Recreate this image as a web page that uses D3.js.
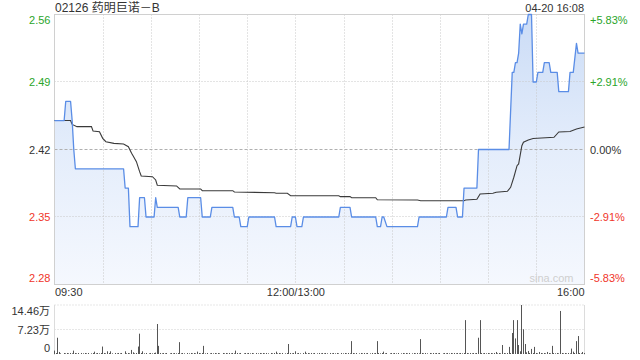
<!DOCTYPE html>
<html><head><meta charset="utf-8">
<script src="https://cdn.jsdelivr.net/npm/d3@7"></script>
<style>
html,body{margin:0;padding:0;background:#fff;}
svg{display:block;font-family:"Liberation Sans",Arial,"Noto Sans CJK SC",sans-serif;}
</style>
</head><body>
<svg id="c" width="640" height="360"></svg>
<script>
// ---------------- data ----------------
const stockTitle = "02126 药明巨诺－B";
const stampText = "04-20 16:08";
const watermark = "sina.com";
const prevClose = 2.42;
const priceTicks = [2.56, 2.49, 2.42, 2.35, 2.28];
const pctTicks = ["+5.83%", "+2.91%", "0.00%", "-2.91%", "-5.83%"];
const timeTicks = [0, 150, 330];               // minutes from 09:30 (lunch removed)
const timeLabels = ["09:30", "12:00/13:00", "16:00"];
const gridMinutes = [30, 60, 90, 120, 150, 180, 210, 240, 270, 300];
const volTicks = [14.46, 7.23, 0];
const volTickLabels = ["14.46万", "7.23万", "0"];

// [minute, price]
const pricePoints = [
  [0,2.45],[6,2.45],[7,2.47],[10,2.47],[11,2.45],[12,2.42],[13,2.40],[43,2.40],[44,2.38],[46,2.38],
  [47,2.34],[52,2.34],[53,2.37],[56,2.37],[57,2.35],[62,2.35],[63,2.37],[64,2.36],[77,2.36],[78,2.35],
  [82,2.35],[83,2.37],[91,2.37],[92,2.35],[97,2.35],[98,2.36],[111,2.36],[112,2.35],[115,2.35],[116,2.34],
  [120,2.34],[121,2.35],[137,2.35],[138,2.34],[147,2.34],[148,2.35],[150,2.35],[151,2.34],[154,2.34],[155,2.35],
  [177,2.35],[178,2.36],[184,2.36],[185,2.35],[200,2.35],[201,2.34],[203,2.34],[204,2.35],[205,2.35],[207,2.34],
  [226,2.34],[227,2.35],[244,2.35],[245,2.36],[250,2.36],[251,2.35],[254,2.35],[255,2.38],[263,2.38],[264,2.42],
  [283,2.42],[285,2.50],[286,2.50],[287,2.51],[288,2.51],[289,2.52],[290,2.55],[291,2.54],[292,2.55],[294,2.55],
  [295,2.56],[297,2.56],[298,2.49],[300,2.49],[301,2.50],[304,2.50],[305,2.51],[308,2.51],[309,2.50],[313,2.50],
  [314,2.48],[320,2.48],[321,2.50],[323,2.50],[325,2.53],[326,2.52],[330,2.52]
];

// [minute, average price]
const avgPoints = [
  [0,2.450],[10,2.450],[11,2.446],[14,2.4437],[23,2.4437],[24,2.4392],[28,2.4385],[30,2.4316],[32,2.4281],[37,2.4264],
  [43,2.4257],[46,2.4229],[48,2.4161],[49,2.4132],[51,2.4074],[53,2.3970],[54,2.3925],[61,2.3918],[63,2.3884],[64,2.3830],
  [76,2.3822],[78,2.3791],[91,2.3791],[92,2.3773],[111,2.3773],[112,2.3759],[137,2.3752],[138,2.3746],[145,2.3746],[147,2.3721],
  [177,2.3721],[178,2.3711],[184,2.3711],[185,2.3700],[200,2.3700],[201,2.3679],[226,2.3676],[228,2.3669],[255,2.3669],[256,2.3676],
  [263,2.3684],[265,2.3739],[273,2.3746],[275,2.3756],[282,2.3767],[284,2.3808],[286,2.3912],[288,2.4032],[289,2.4050],[291,2.4240],
  [292,2.4275],[295,2.4299],[298,2.4314],[311,2.4327],[314,2.4382],[321,2.4387],[325,2.4413],[330,2.4433]
];

// volume per minute, unit 万
const volume = [
  1.0,0.3,4.8,0.6,0.2,0,0.3,0.2,0.3,0.2,
  0.3,0.2,1.0,0.3,0.2,0.3,0,0.3,0.2,0.3,
  0.2,0.3,0,0.2,0.3,0.7,0.2,0.3,0.2,0.3,
  2.2,0.3,0.2,0.8,0.3,0.8,0.2,0,0.3,0.2,
  0.3,0.2,0.3,0,0.8,0.2,0.3,0.2,1.2,0.5,
  0.2,0.3,2.2,6.0,0.3,0.8,0.2,0.3,0,0.2,
  0.3,0.2,0.3,0.4,8.85,2.4,0.3,0.2,0.3,0.2,
  0.3,0,0.2,0.3,0.2,0.3,0.2,0.3,3.5,0.2,
  0.3,0.2,0,0.3,0.2,0.3,0.2,0.3,0.2,0.7,
  0.3,0.2,0.3,2.4,0.2,0.3,0,0.2,0.3,0.2,
  0.3,0.2,0.3,0.2,0,0.3,0.2,0.3,0.2,0.3,
  0.2,0.3,0.2,1.0,0.3,0.2,0.3,0,0.2,0.3,
  0.2,0.3,0.2,0.3,0.2,0,0.3,0.2,0.3,0.2,
  0.3,0.2,0.3,0.2,0,0.3,0.2,0.3,0.7,0.2,
  0.3,0.2,0.3,0,0.2,0.3,2.95,0.3,0.2,0.3,
  0.8,0.2,0.3,0.2,0,0.3,0.7,0.2,0.3,0.2,
  0.3,0.2,0.3,0,0.2,0.3,0.2,0.3,0.2,0.3,
  0.2,0,0.3,0.2,0.3,0.2,0.3,0.2,0,0.3,
  0.2,0.3,0.2,0.3,0.2,3.8,0.3,0.2,0.3,0,
  0.2,0.3,0.2,0.3,0.2,0.3,0,0.2,0.3,0.2,
  0.3,3.8,0.3,0.2,0.3,0.7,0.2,0.3,0,0.2,
  0.3,0.2,0.3,0.2,0.3,0,0.2,0.3,0.2,0.3,
  0.2,0.3,0,0.2,0.3,0.2,0.3,0.2,4.4,0.3,
  0.2,0.3,0.2,0,0.3,0.2,0.3,0.2,0.3,0.2,
  0.3,0,0.2,0.3,0.2,0.3,0.2,0.3,0.2,0.3,
  0.2,0.3,0.2,0.3,0.2,0.3,10.0,0.3,0.2,0.3,
  0.2,0.3,0.2,0.3,4.8,10.0,0.3,0.2,0.3,0.2,
  0.3,0.2,0.3,0.2,0.3,0.6,0.2,0.3,0.2,2.65,
  0.3,0.2,0.3,2.1,0.3,6.2,10.0,4.6,10.0,2.65,
  0.8,14.46,7.3,2.95,0.5,0.9,0.3,1.5,0.3,2.1,
  0.3,0.2,0.6,0.3,0.2,0.3,0.2,0.6,0.3,0.2,
  2.4,0.3,0.2,0.3,0.2,12.7,0.3,0.2,0.3,0.2,
  0.3,0.2,1.6,0.7,0.3,3.8,5.3,0.3,0.2,0.6,
  0.3
];

// ---------------- layout ----------------
const L = 54.5, R = 584.5, T = 14.5, B = 284.5;
const VT = 305, VB = 354;
const GREEN = "#2aa52a", RED = "#f0352a", DARK = "#333";

const svg = d3.select("#c");
const x = d3.scaleLinear().domain([0, 330]).range([L, R]);
const y = d3.scaleLinear().domain([2.28, 2.56]).range([B, T]);
const vy = d3.scaleLinear().domain([0, 14.46]).range([VB, VT]);

const colorFor = v => v > prevClose + 1e-9 ? GREEN : (v < prevClose - 1e-9 ? RED : DARK);

// gradient
const defs = svg.append("defs");
const grad = defs.append("linearGradient").attr("id", "fillg")
  .attr("gradientUnits", "userSpaceOnUse").attr("x1", 0).attr("x2", 0).attr("y1", T).attr("y2", B);
grad.append("stop").attr("offset", "0%").attr("stop-color", "#cbdcf6");
grad.append("stop").attr("offset", "50%").attr("stop-color", "#e4edfb");
grad.append("stop").attr("offset", "100%").attr("stop-color", "#f5f8fe");

// area
const area = d3.area().x(d => x(d[0])).y0(B).y1(d => y(d[1]));
svg.append("path").datum(pricePoints).attr("d", area).attr("fill", "url(#fillg)");

// vertical grid
svg.append("g").selectAll("line").data(gridMinutes).join("line")
  .attr("x1", d => Math.round(x(d)) + 0.5).attr("x2", d => Math.round(x(d)) + 0.5)
  .attr("y1", T).attr("y2", B)
  .attr("stroke", "#c8c8c8").attr("stroke-dasharray", "1,2");

// horizontal grid (inner)
svg.append("g").selectAll("line").data(priceTicks.slice(1, -1)).join("line")
  .attr("x1", L).attr("x2", R)
  .attr("y1", d => Math.floor(y(d)) + 0.5).attr("y2", d => Math.floor(y(d)) + 0.5)
  .attr("stroke", d => d === prevClose ? "#b0b0b0" : "#c8c8c8")
  .attr("stroke-dasharray", d => d === prevClose ? "3,2" : "1,2");

// frame
svg.append("rect").attr("x", L).attr("y", T).attr("width", R - L).attr("height", B - T)
  .attr("fill", "none").attr("stroke", "#d0d0d0");

// avg line
const line = d3.line().x(d => x(d[0])).y(d => y(d[1]));
svg.append("path").datum(avgPoints).attr("d", line)
  .attr("fill", "none").attr("stroke", "#3a3a3a").attr("stroke-width", 1.1);

// price line
svg.append("path").datum(pricePoints).attr("d", line)
  .attr("fill", "none").attr("stroke", "#5a8de6").attr("stroke-width", 1.3).attr("stroke-linejoin", "round");

// left price labels
const n = priceTicks.length;
const labelY = (v, i) => y(v) + (i === 0 ? 9.5 : (i === n - 1 ? -2.5 : 4));
svg.append("g").selectAll("text").data(priceTicks).join("text")
  .attr("x", 50.5).attr("y", (d, i) => labelY(d, i))
  .attr("text-anchor", "end").attr("font-size", 11)
  .attr("fill", d => colorFor(d)).text(d => d.toFixed(2));

// right pct labels
svg.append("g").selectAll("text").data(pctTicks).join("text")
  .attr("x", 590).attr("y", (d, i) => labelY(priceTicks[i], i))
  .attr("font-size", 11)
  .attr("fill", (d, i) => colorFor(priceTicks[i])).text(d => d);

// time labels
svg.append("g").selectAll("text").data(timeTicks).join("text")
  .attr("x", (d, i) => i === 0 ? x(d) + 0.5 : (i === timeTicks.length - 1 ? x(d) : x(d) + 0.5))
  .attr("y", 296)
  .attr("text-anchor", (d, i) => i === 0 ? "start" : (i === timeTicks.length - 1 ? "end" : "middle"))
  .attr("font-size", 11).attr("fill", DARK).text((d, i) => timeLabels[i]);

// title and stamp
svg.append("text").attr("x", 55).attr("y", 12).attr("font-size", 12).attr("fill", DARK).text(stockTitle);
svg.append("text").attr("x", 584).attr("y", 11.5).attr("text-anchor", "end")
  .attr("font-size", 11).attr("fill", DARK).text(stampText);

// watermark
svg.append("text").attr("x", 573.5).attr("y", 282).attr("text-anchor", "end")
  .attr("font-size", 11).attr("fill", "#cfcfcf").text(watermark);

// ---------------- volume ----------------
svg.append("g").selectAll("line").data(volTicks.filter(v => v > 0)).join("line")
  .attr("x1", L).attr("x2", R).attr("y1", d => vy(d)).attr("y2", d => vy(d))
  .attr("stroke", "#cfcfcf").attr("stroke-dasharray", "1,2");
svg.append("line").attr("x1", L).attr("x2", L).attr("y1", VT).attr("y2", VB + 1).attr("stroke", "#dcdcdc");
svg.append("line").attr("x1", R).attr("x2", R).attr("y1", VT).attr("y2", VB + 1).attr("stroke", "#dcdcdc");

svg.append("g").selectAll("rect").data(volume).join("rect")
  .attr("x", (d, i) => Math.floor(x(i)))
  .attr("width", 1)
  .attr("y", d => vy(d))
  .attr("height", d => VB - vy(d))
  .attr("fill", "#555");

const vOff = [10, 4, -2.3];
svg.append("g").selectAll("text").data(volTicks).join("text")
  .attr("x", 50).attr("y", (d, i) => vy(d) + vOff[i])
  .attr("text-anchor", "end").attr("font-size", 11).attr("fill", DARK)
  .text((d, i) => volTickLabels[i]);
</script>
</body></html>
